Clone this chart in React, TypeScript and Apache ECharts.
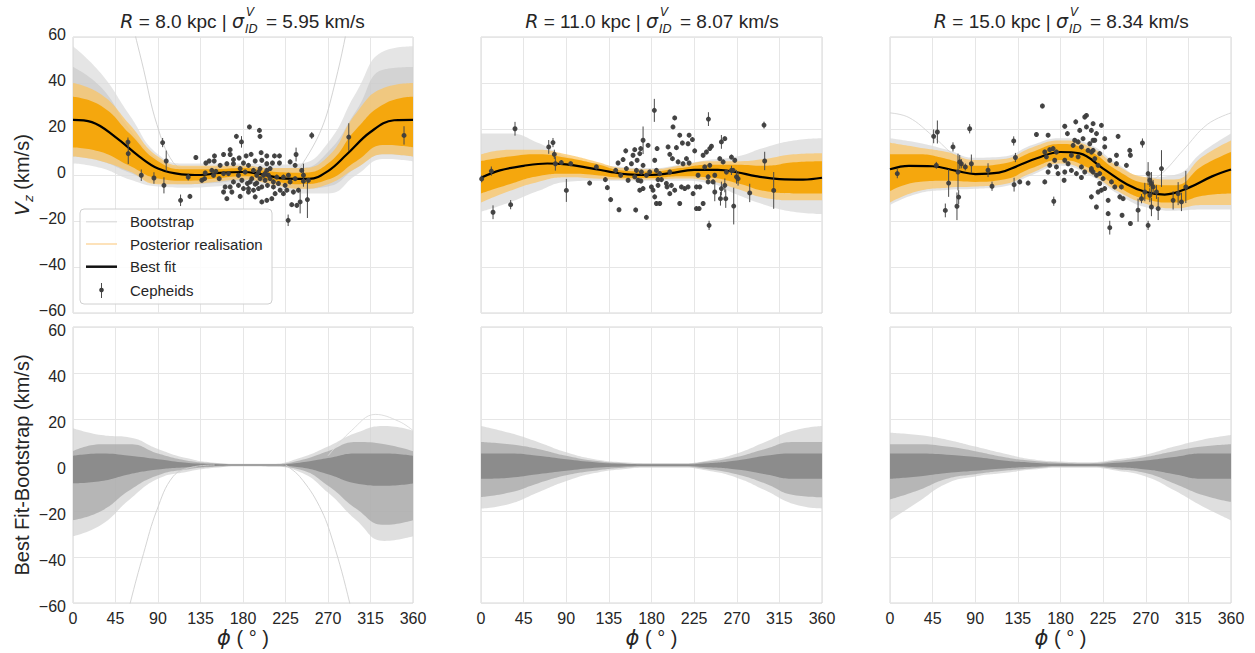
import React, { useEffect, useRef } from 'react';
import * as echarts from 'echarts';

const FONT = 'Liberation Sans';
const MATH = 'DejaVu Sans';
const INK = '#262626';

// phi sampling used for the bundles (envelopes)
const PHI_GRID = [0, 30, 60, 90, 120, 150, 180, 210, 240, 270, 300, 330, 360];
// phi sampling used for the best-fit curves
const PHI_FIT = [0, 20, 45, 70, 90, 115, 135, 155, 180, 200, 225, 250, 270, 290, 315, 340, 360];

// ---------- Panel 1 : R = 8.0 kpc ----------
const BEST_1 = [24.0, 23.0, 16.5, 8.1, 2.8, 0.3, 0.0, 0.9, 1.3, 0.3, -1.6, -1.7, 1.7, 9.0, 18.7, 23.8, 24.0];
const BOOT1_OUT_LO = [5, 3, -2, -5, -5.5, -5, -4, -5, -8, -8, 0, 7, 6];
const BOOT1_OUT_HI = [56, 44, 26, 9, 5, 5, 5, 4.5, 5, 14, 36, 54, 56];
const BOOT1_IN_LO = [8, 6, 1, -3.5, -4, -3.5, -2.5, -3.5, -6, -5, 3, 9, 8];
const BOOT1_IN_HI = [47, 38, 20, 7, 3.5, 3.5, 4, 3, 3, 10, 28, 46, 47];
const POST1_OUT_LO = [8, 6, 1.5, -4, -4, -3, -2, -4, -6, -4, 3, 9, 8];
const POST1_OUT_HI = [40, 35, 22, 8, 4, 4, 4, 3, 3, 8, 27, 38, 40];
const POST1_IN_LO = [12, 10, 4, -1.5, -2.5, -1.5, -0.5, -2.5, -4, -2, 6, 13, 12];
const POST1_IN_HI = [34, 30, 18, 6, 2.5, 2.5, 3, 1.5, 1, 5, 20, 31, 34];
const BOOT1_STRAY_A = [[55, 88], [60.6, 71], [74.7, 46], [88.8, 22], [106, 5.5], [125, 0.5]];
const BOOT1_STRAY_B = [[240, 3], [261, 18], [275, 36], [293, 70], [300, 90]];
const CEPH_1 = [
  [58.2, 14.3, 2], [58.5, 9.3, 4.5], [72.3, -0.1, 2.5], [85.7, -1.3, 2.5], [94.9, 14.1, 2], [98.7, 6.1, 4.5],
  [96.3, -4.5, 3.5], [113.9, -11, 2.5], [123.8, -9.3, 1], [122, -0.9, 1.5], [178.4, 14.4, 2.5], [227.8, -19.7, 2.5],
  [292, 16.5, 6], [350.5, 17.2, 4], [252.8, 17.2, 1.5], [186.8, 20.9, 1], [197.4, 19.4, 1], [198, 16.8, 1], [173, 16.8, 1],
  [166.4, 11.0, 1], [159.4, 8.9, 1], [166.4, 8.9, 1], [149.8, 8.3, 1], [130.1, 7.6, 1], [140.7, 5.2, 1], [144.2, 6.1, 1],
  [149.5, 6.1, 1], [169.9, 6.7, 1], [175.9, 7.4, 1], [183.3, 8.3, 1], [188.6, 9.0, 1], [199.2, 9.7, 1], [205.2, 8.3, 1],
  [213.3, 8.3, 1], [218.6, 8.3, 1], [218.6, 5.2, 1], [211.2, 5.2, 1], [199.9, 6.4, 1], [192.9, 6.1, 1], [180.5, 5.2, 1],
  [169.9, 4.9, 1], [162.9, 4.9, 1], [155.8, 4.2, 1], [147.0, 2.0, 1], [140.0, 0.9, 1], [136.4, -2.3, 1], [139.3, -1.6, 1],
  [151.3, 1.6, 1], [159.4, 0.6, 1], [164.6, 0.6, 1], [175.2, -0.1, 1], [182.3, 1.3, 1], [191.1, 2.0, 1], [198.1, 2.8, 1],
  [205.2, 2.0, 1], [208.7, 2.8, 1], [194.6, -0.1, 1], [201.7, -0.1, 1], [189.3, -1.6, 1], [187.6, -3.0, 1], [194.6, -3.5, 1],
  [203.4, -2.3, 1], [208.7, -1.6, 1], [212.2, -3.0, 1], [215.8, -0.9, 1], [222.8, -0.9, 1], [228.1, -0.1, 1], [229.9, 5.7, 1],
  [235.2, 4.2, 1], [236.2, 8.9, 3], [242.2, 2.0, 1], [244.0, -0.1, 5], [235.2, -1.6, 1], [229.9, -3.0, 1], [224.6, -4.5, 1],
  [226.4, -6.6, 1], [233.4, -7.4, 1], [238.7, -6.6, 1], [240.5, -11.7, 5], [237.0, -13.2, 1], [231.6, -12.9, 1],
  [248.2, -10.7, 8], [244.0, -2.7, 1], [249.3, -2.3, 1], [205.9, -4.5, 1], [199.9, -5.2, 1], [196.4, -5.9, 1], [191.1, -6.6, 1],
  [185.8, -5.9, 1], [180.5, -5.9, 1], [175.2, -4.5, 1], [166.4, -5.2, 1], [161.1, -5.2, 1], [159.4, -7.4, 1], [162.9, -10.3, 1],
  [168.2, -7.4, 1], [177.0, -9.3, 1], [185.8, -7.4, 1], [192.9, -9.5, 1], [199.9, -11.7, 1], [205.2, -11.0, 1], [210.5, -10.3, 1],
  [214.0, -8.1, 1], [219.3, -6.6, 1], [222.8, -8.1, 1], [217.5, -3.7, 1], [212.2, -5.2, 1], [184.7, -3.7, 1], [178.8, -2.3, 1],
  [169.9, -3.0, 1], [154.8, -1.6, 1], [148.8, -0.1, 1], [196.4, 1.3, 1], [203.4, 0.6, 1], [207.0, -0.1, 1], [198.1, -1.6, 1],
  [192.9, -4.0, 1], [205.2, 4.9, 1], [185.8, 4.2, 1], [177.0, 2.8, 1],
];

// ---------- Panel 2 : R = 11.0 kpc ----------
const BEST_2 = [-1.2, 2.0, 4.0, 5.0, 4.6, 3.0, 1.5, 0.3, 0.0, 0.8, 2.2, 2.2, 1.2, -0.5, -1.8, -2.0, -1.2];
const BOOT2_LO = [-16, -12, -7, -3, -2.5, -2.5, -2.5, -2.5, -3.5, -8.5, -13, -16, -17];
const BOOT2_HI = [18, 18, 14, 8, 5, 3.5, 3, 4.5, 6.5, 8, 12, 15, 16];
const POST2_OUT_LO = [-12, -7, -3, -1, -1.5, -2, -2, -1.5, -2.5, -6, -10, -11, -11];
const POST2_OUT_HI = [9, 11, 11, 9, 6, 3, 2.5, 4, 6, 6, 7, 9, 9.5];
const POST2_IN_LO = [-8, -4, -0.5, 0.5, 0, -1.2, -1.3, -0.5, -1, -3.5, -7, -8, -8];
const POST2_IN_HI = [6, 8, 9, 7.5, 5, 2, 1.5, 3, 4.5, 4.5, 4, 5.5, 6];
const CEPH_2 = [
  [0.7, -1.7, 1.5], [10.9, 1.7, 2], [12.7, -16.2, 3], [35.9, 20.1, 3], [31.3, -12.9, 2], [71.5, 12.2, 3], [76.0, 14.1, 2],
  [77.4, 9.0, 2], [78.5, 4.9, 3], [84.8, 5.4, 1], [94.7, 4.9, 1], [90.1, -6.7, 5], [114.7, -3.5, 1], [121.8, 3.5, 1],
  [131.3, -2.0, 1], [133.4, -5.5, 1], [136.9, -10.7, 1], [145.7, -15.1, 1], [163.3, -15.2, 1], [174.6, -18.4, 1],
  [183.0, 28.1, 5], [204.5, 24.8, 1], [202.7, 20.9, 1], [240.1, 24.3, 3], [240.8, -21.9, 2], [266.8, -13.5, 8],
  [283.7, -7.8, 4], [298.8, 21.7, 1.5], [299.5, 6.1, 4], [309.0, -6.7, 8], [171.1, 15.1, 6],
  [152.8, 10.5, 1], [162.3, 11.0, 1], [168.6, 11.5, 1], [176.4, 12.9, 1], [185.9, 11.5, 1], [160.5, 8.6, 1], [167.6, 9.3, 1],
  [164.8, 6.4, 1], [150.0, 6.7, 1], [144.7, 5.2, 1], [158.8, 4.9, 1], [171.1, 4.2, 1], [183.4, 6.4, 1], [185.2, 2.0, 1],
  [197.5, 12.2, 1], [206.3, 11.9, 1], [209.8, 17.3, 1], [219.7, 17.3, 1], [212.6, 13.9, 1], [218.6, 13.6, 1], [223.2, 15.4, 1],
  [225.6, 10.5, 1], [202.1, 7.1, 1], [199.3, 9.0, 1], [208.1, 5.7, 1], [216.9, 7.1, 1], [213.3, 4.9, 1], [219.7, 5.2, 1],
  [142.2, 2.0, 1], [153.5, 2.8, 1], [164.1, 2.0, 1], [169.3, 1.3, 1], [174.6, -0.1, 1], [178.1, 1.3, 1], [188.7, 0.6, 1],
  [199.3, 1.3, 1], [162.3, -0.8, 1], [165.8, -2.3, 1], [168.8, -2.6, 1], [171.1, -5.9, 1], [167.6, -6.6, 1], [179.9, -5.2, 1],
  [181.6, -6.6, 1], [186.9, -2.0, 1], [186.9, -4.5, 1], [183.4, -9.5, 1], [185.2, -12.4, 1], [188.7, -12.4, 1], [190.5, -2.0, 1],
  [195.7, -3.7, 1], [196.4, -5.2, 1], [201.0, -4.5, 1], [204.5, -6.6, 1], [199.3, -8.1, 1], [211.6, -5.2, 1], [215.1, -5.9, 1],
  [218.6, -5.2, 1], [209.8, -12.4, 1], [223.9, -8.1, 1], [227.4, -5.2, 1], [227.4, -14.6, 1], [155.3, -2.3, 1], [147.5, -0.1, 1],
  [234.5, 8.6, 1], [238.0, 10.0, 1], [241.5, 11.5, 1], [243.3, 12.5, 1], [253.8, 14.4, 3], [257.4, 15.8, 1], [252.1, 7.1, 1],
  [255.6, 5.7, 1], [264.4, 7.8, 1], [267.9, 6.4, 1], [236.2, 3.5, 1], [241.5, 4.2, 1], [229.2, -0.1, 1], [239.8, -0.8, 1],
  [246.8, -0.1, 1], [259.1, 1.3, 1], [264.4, 2.0, 2], [269.7, -0.8, 3], [271.4, -1.6, 3], [231.0, -5.2, 1], [234.5, -12.4, 1],
  [230.3, -14.6, 1], [246.8, -7.4, 4], [253.8, -5.9, 3], [257.4, -4.5, 3], [258.4, -10.3, 4], [252.8, -10.3, 3],
  [239.8, -3.0, 1], [245.0, -3.0, 1], [266.2, 2.0, 1],
];

// ---------- Panel 3 : R = 15.0 kpc ----------
const BEST_3 = [2.5, 4.0, 3.8, 1.8, 0.4, 1.0, 4.0, 7.3, 10.0, 9.4, 2.8, -4.0, -7.4, -8.5, -5.6, -0.6, 2.4];
const BOOT3_LO = [-13, -8, -6.5, -6, -5, 0, 4, 0, -8, -14, -15.5, -15, -15];
const BOOT3_HI = [16, 14, 11, 7.5, 8, 13, 16, 13.5, 5, -1, 0, 10, 18];
const POST3_OUT_LO = [-12, -7, -5.5, -5, -4, 1, 5, 1, -7, -12.5, -14.5, -13, -13];
const POST3_OUT_HI = [14, 12, 10, 6.5, 7, 12, 15, 12.5, 4, -1, -2, 8, 15];
const POST3_IN_LO = [-7, -3, -2.5, -3, -2, 3, 6.5, 3, -5, -10.5, -12, -9, -8];
const POST3_IN_HI = [9, 9, 7, 4, 5, 10, 13.5, 10.5, 2, -3.5, -4.5, 4, 10];
const BOOT3_STRAY_A = [[0, 27], [20, 25], [45, 17], [70, 8], [95, 3]];
const BOOT3_STRAY_B = [[260, -6], [285, 0], [310, 11], [335, 22], [360, 27]];
const CEPH_3 = [
  [7.7, 0.6, 2], [46.1, 16.8, 3], [50.0, 18.7, 5], [48.9, 4.2, 1.5], [58.4, -15.4, 3], [61.9, -3.5, 6], [66.5, 12.2, 2],
  [70.7, -13.6, 6], [72.5, -9.6, 3], [71.8, 1.3, 8], [73.6, 5.7, 3], [75.3, 4.9, 2], [79.5, 3.5, 1.5], [84.1, 20.1, 2],
  [85.9, 4.9, 4], [103.5, 2.1, 3], [107.7, -4.9, 2], [130.6, 14.8, 2], [132.4, 7.6, 2], [131.0, -4.2, 3], [137.0, -3.0, 1],
  [145.8, -3.5, 1], [154.6, 17.6, 1], [160.9, 30.0, 1], [166.9, 17.3, 1], [163.4, -3.0, 1], [172.9, -11.4, 2],
  [163.4, 10.0, 1], [168.6, 11.0, 1], [172.2, 11.5, 1], [175.7, 10.0, 1], [165.1, 7.9, 1], [173.9, 6.4, 1], [168.6, 4.2, 1],
  [175.7, 3.5, 1], [166.9, 1.3, 1], [177.4, 0.6, 1], [184.5, 1.3, 1], [183.8, -2.3, 1], [184.5, 21.2, 1], [187.3, 18.0, 1],
  [196.1, 23.1, 1], [205.6, 25.2, 1], [207.4, 25.9, 1], [200.3, 19.4, 1], [207.4, 20.9, 1], [212.6, 19.4, 1], [214.4, 22.3, 1],
  [223.2, 21.6, 1], [195.0, 15.1, 1], [198.6, 14.4, 1], [203.8, 15.8, 1], [193.3, 12.9, 1], [202.1, 12.2, 1], [210.9, 13.6, 1],
  [216.2, 15.1, 1], [209.1, 10.7, 1], [214.4, 10.7, 1], [221.4, 9.3, 1], [191.5, 8.6, 1], [198.6, 7.9, 1], [184.5, 6.4, 1],
  [188.0, 4.9, 1], [202.1, 3.5, 1], [205.6, 1.3, 1], [212.6, 2.8, 1], [214.4, 1.3, 1], [202.1, -1.1, 1], [221.4, 0.6, 1],
  [221.4, -3.7, 1], [212.6, -9.5, 1], [217.9, -13.9, 1], [223.2, -6.6, 1], [219.7, 4.2, 1], [191.5, 2.0, 1], [196.8, 0.6, 1],
  [240.8, 16.8, 1], [266.5, 13.9, 2], [286.6, 2.8, 8], [226.7, 15.8, 1], [226.7, 12.2, 1], [239.1, 8.6, 1], [253.1, 10.7, 1],
  [253.8, 8.6, 1], [249.6, 4.2, 1], [239.1, 4.9, 1], [232.0, 6.4, 1], [214.4, 15.1, 1], [218.0, 18.0, 1], [212.7, 10.0, 1],
  [216.2, 7.1, 1], [212.7, 2.0, 1], [218.0, -0.1, 1], [225.0, -1.6, 1], [226.7, -5.9, 1], [219.7, -7.4, 1], [233.8, -3.0, 1],
  [237.3, -5.2, 1], [244.3, -5.2, 1], [242.6, -9.5, 1], [246.1, -10.3, 1], [230.3, -11.0, 1], [230.3, -16.8, 1],
  [232.0, -22.9, 3], [245.0, -17.5, 1], [253.8, -21.1, 1], [272.5, -21.9, 2], [261.9, -15.3, 5], [265.5, -10.3, 2],
  [269.0, -7.4, 4], [272.5, 0.6, 5], [274.3, -2.3, 3], [276.0, -3.7, 5], [277.8, -5.2, 3], [274.3, -8.8, 3], [281.3, -7.4, 3],
  [276.0, -13.9, 4], [283.1, -14.6, 5], [298.9, -11.0, 4], [304.2, -8.1, 5], [307.7, -11.7, 4], [312.3, -5.2, 7],
];

// ---------- Bottom row : best fit - bootstrap ----------
const DIFF1_OUT_LO = [-31, -26, -15, -6, -3, -1.2, -0.6, -0.8, -3, -12, -24, -33, -31];
const DIFF1_OUT_HI = [16, 13, 12, 7, 3, 1, 0.5, 0.5, 3, 8, 14, 17, 15];
const DIFF1_MID_LO = [-24, -20, -11, -4.5, -2, -0.8, -0.4, -0.5, -2, -9, -19, -26, -24];
const DIFF1_MID_HI = [6, 9, 9, 5, 2, 0.8, 0.4, 0.4, 2, 6, 10, 9, 6];
const DIFF1_IN_LO = [-8, -7, -4, -2, -1, -0.4, -0.2, -0.2, -1, -4, -8, -9, -8];
const DIFF1_IN_HI = [4, 5, 4, 2.5, 1, 0.4, 0.2, 0.2, 1, 3, 5, 5, 4];
const DIFF1_STRAY_A = [[40, -95], [60.6, -60], [74.7, -38.5], [88.8, -19.6], [106, -5], [125, -1], [150, 0]];
const DIFF1_STRAY_B = [[225, 0], [240, -5], [261, -18], [275, -33], [293, -60], [310, -92]];
const DIFF1_STRAY_C = [[270, 4], [295, 15], [320, 22], [345, 19], [360, 15]];

const DIFF2_OUT_LO = [-19, -17, -12, -7, -3.5, -1.8, -1.2, -1.2, -2.5, -5.5, -11, -17, -19];
const DIFF2_OUT_HI = [17, 14, 10, 5.5, 2.5, 1.2, 0.8, 0.8, 2, 5, 10, 15, 17];
const DIFF2_MID_LO = [-14, -12, -8, -4.5, -2.5, -1.2, -0.8, -0.8, -1.8, -4, -8, -13, -14];
const DIFF2_MID_HI = [10, 9, 7, 4, 1.8, 0.8, 0.5, 0.5, 1.5, 3.5, 7, 10, 10];
const DIFF2_IN_LO = [-6, -5.5, -4, -2.5, -1.2, -0.6, -0.4, -0.4, -1, -2, -4, -6, -6];
const DIFF2_IN_HI = [5, 5, 4, 2.5, 1.2, 0.5, 0.3, 0.3, 0.8, 2, 4, 5, 5];

const DIFF3_OUT_LO = [-24, -16, -8, -5, -3.5, -2, -1.2, -1.2, -2.5, -5, -11, -18, -24];
const DIFF3_OUT_HI = [14, 13, 11, 8, 5, 2.5, 1.5, 1.2, 2.5, 4.5, 8, 11, 13];
const DIFF3_MID_LO = [-15, -11, -6, -4, -2.5, -1.5, -0.8, -0.8, -1.8, -3.5, -8, -13, -16];
const DIFF3_MID_HI = [9, 9, 8, 6, 3.5, 1.8, 1, 0.8, 1.8, 3.5, 6, 8, 9];
const DIFF3_IN_LO = [-6, -5, -3.5, -2.5, -1.5, -0.8, -0.4, -0.4, -1, -2, -4, -6, -6];
const DIFF3_IN_HI = [5, 5, 4.5, 3.5, 2, 1, 0.5, 0.4, 1, 2, 3.5, 5, 5];

const TITLES = [
  { left: 'R = 8.0 kpc | σ', right: '= 5.95 km/s' },
  { left: 'R = 11.0 kpc | σ', right: '= 8.07 km/s' },
  { left: 'R = 15.0 kpc | σ', right: '= 8.34 km/s' },
];

const GRID_LEFT = [73, 481, 890];
const GRID_W = [340, 341, 341];
const ROW_TOP = [37, 327];
const GRID_H = 276;
const TITLE_ANCHOR = [244, 658, 1068];

function band(grid: number, lo: number[], hi: number[], color: string, opacity: number, id: string, z: number) {
  const cat = 6 + grid;
  const common = {
    type: 'line', xAxisIndex: cat, yAxisIndex: grid, stack: id, stackStrategy: 'all',
    smooth: 0.5, symbol: 'none', silent: true, z, lineStyle: { opacity: 0, width: 0 },
  };
  return [
    { ...common, data: lo },
    { ...common, data: hi.map((h, i) => h - lo[i]), areaStyle: { color, opacity } },
  ];
}

function line(grid: number, pts: number[][], color: string, width: number, opacity: number, z: number) {
  return {
    type: 'line', xAxisIndex: grid, yAxisIndex: grid, data: pts, smooth: 0.4, symbol: 'none', silent: true, z,
    lineStyle: { color, width, opacity },
  };
}

function cepheids(grid: number, data: number[][]) {
  return [
    {
      type: 'custom', xAxisIndex: grid, yAxisIndex: grid, data, z: 6, silent: true,
      encode: { x: 0, y: 1 },
      renderItem: (_p: any, api: any) => {
        const x = api.value(0), y = api.value(1), e = api.value(2);
        const a = api.coord([x, y - e]);
        const b = api.coord([x, y + e]);
        return { type: 'line', shape: { x1: a[0], y1: a[1], x2: b[0], y2: b[1] }, style: { stroke: '#4a4a4a', lineWidth: 1 } };
      },
    },
    {
      type: 'scatter', xAxisIndex: grid, yAxisIndex: grid, data: data.map((d) => [d[0], d[1]]), symbolSize: 5, z: 7, silent: true,
      itemStyle: { color: '#3d3d3d', opacity: 0.95 },
    },
  ];
}

const minus = (v: number) => (v < 0 ? '\u2212' + Math.abs(v) : String(v));

function buildOption() {
  const grids: any[] = [];
  const xAxes: any[] = [];
  const yAxes: any[] = [];
  for (let r = 0; r < 2; r++) {
    for (let c = 0; c < 3; c++) {
      grids.push({ left: GRID_LEFT[c], top: ROW_TOP[r], width: GRID_W[c], height: GRID_H, show: true, borderColor: '#d6d6d6', borderWidth: 1 });
    }
  }
  const label = { fontFamily: FONT, fontSize: 16, color: INK };
  for (let g = 0; g < 6; g++) {
    const bottom = g >= 3;
    xAxes.push({
      gridIndex: g, type: 'value', min: 0, max: 360, interval: 45,
      axisLine: { show: false }, axisTick: { show: false },
      splitLine: { show: true, lineStyle: { color: '#e6e6e6', width: 1 } },
      axisLabel: { show: bottom, ...label, margin: 7 },
      name: bottom ? '{i|ϕ} ( ° )' : '', nameLocation: 'middle', nameGap: 24,
      nameTextStyle: { fontFamily: FONT, fontSize: 20, color: INK, rich: { i: { fontFamily: MATH, fontStyle: 'italic', fontSize: 21, color: INK } } },
    });
    yAxes.push({
      gridIndex: g, type: 'value', min: -60, max: 60, interval: 20,
      axisLine: { show: false }, axisTick: { show: false },
      splitLine: { show: true, lineStyle: { color: '#e6e6e6', width: 1 } },
      axisLabel: {
        show: g % 3 === 0, ...label, margin: 7, formatter: minus,
        // labels of the top row sit 3px higher, those of the bottom row 3px lower,
        // so that "−60" and "60" between the rows stay apart
        lineHeight: 6, verticalAlign: bottom ? 'top' : 'bottom',
      },
    });
  }
  for (let g = 0; g < 6; g++) {
    xAxes.push({ gridIndex: g, type: 'category', data: PHI_GRID.map(String), boundaryGap: false, show: false, position: 'top' });
  }

  const GRAY_O = '#dcdcdc', GRAY_I = '#c6c6c6';
  const OR_O = '#fcc35c', OR_I = '#f5a300';
  const series: any[] = [
    // panel 1
    ...band(0, BOOT1_OUT_LO, BOOT1_OUT_HI, GRAY_O, 0.75, 'b1o', 1),
    ...band(0, BOOT1_IN_LO, BOOT1_IN_HI, GRAY_I, 0.6, 'b1i', 1),
    line(0, BOOT1_STRAY_A, '#c8c8c8', 1, 0.8, 1),
    line(0, BOOT1_STRAY_B, '#c8c8c8', 1, 0.8, 1),
    ...band(0, POST1_OUT_LO, POST1_OUT_HI, OR_O, 0.7, 'p1o', 2),
    ...band(0, POST1_IN_LO, POST1_IN_HI, OR_I, 0.9, 'p1i', 2),
    line(0, PHI_FIT.map((p, i) => [p, BEST_1[i]]), '#000', 2.2, 1, 5),
    ...cepheids(0, CEPH_1),
    // panel 2
    ...band(1, BOOT2_LO, BOOT2_HI, GRAY_O, 0.8, 'b2o', 1),
    ...band(1, POST2_OUT_LO, POST2_OUT_HI, OR_O, 0.7, 'p2o', 2),
    ...band(1, POST2_IN_LO, POST2_IN_HI, OR_I, 0.9, 'p2i', 2),
    line(1, PHI_FIT.map((p, i) => [p, BEST_2[i]]), '#000', 2.2, 1, 5),
    ...cepheids(1, CEPH_2),
    // panel 3
    ...band(2, BOOT3_LO, BOOT3_HI, GRAY_O, 0.8, 'b3o', 1),
    line(2, BOOT3_STRAY_A, '#d0d0d0', 1, 0.8, 1),
    line(2, BOOT3_STRAY_B, '#d0d0d0', 1, 0.8, 1),
    ...band(2, POST3_OUT_LO, POST3_OUT_HI, OR_O, 0.7, 'p3o', 2),
    ...band(2, POST3_IN_LO, POST3_IN_HI, OR_I, 0.9, 'p3i', 2),
    line(2, PHI_FIT.map((p, i) => [p, BEST_3[i]]), '#000', 2.2, 1, 5),
    ...cepheids(2, CEPH_3),
    // bottom row
    ...band(3, DIFF1_OUT_LO, DIFF1_OUT_HI, '#d2d2d2', 0.7, 'd1o', 1),
    ...band(3, DIFF1_MID_LO, DIFF1_MID_HI, '#a8a8a8', 0.75, 'd1m', 1),
    ...band(3, DIFF1_IN_LO, DIFF1_IN_HI, '#878787', 0.9, 'd1i', 1),
    line(3, DIFF1_STRAY_A, '#cfcfcf', 1, 0.9, 1),
    line(3, DIFF1_STRAY_B, '#cfcfcf', 1, 0.9, 1),
    line(3, DIFF1_STRAY_C, '#dadada', 1, 0.9, 1),
    ...band(4, DIFF2_OUT_LO, DIFF2_OUT_HI, '#d2d2d2', 0.7, 'd2o', 1),
    ...band(4, DIFF2_MID_LO, DIFF2_MID_HI, '#a8a8a8', 0.75, 'd2m', 1),
    ...band(4, DIFF2_IN_LO, DIFF2_IN_HI, '#878787', 0.9, 'd2i', 1),
    ...band(5, DIFF3_OUT_LO, DIFF3_OUT_HI, '#d2d2d2', 0.7, 'd3o', 1),
    ...band(5, DIFF3_MID_LO, DIFF3_MID_HI, '#a8a8a8', 0.75, 'd3m', 1),
    ...band(5, DIFF3_IN_LO, DIFF3_IN_HI, '#878787', 0.9, 'd3i', 1),
  ];

  const graphic: any[] = [];
  TITLES.forEach((t, i) => {
    const ax = TITLE_ANCHOR[i];
    graphic.push(
      {
        type: 'text', x: ax, y: 21, z: 10,
        style: {
          text: t.left.replace('R', '{m|R}').replace('σ', '{m|σ}'),
          rich: { m: { fontFamily: MATH, fontStyle: 'italic', fontSize: 19, fill: INK } },
          fontFamily: FONT, fontSize: 19, fill: INK, align: 'right', verticalAlign: 'middle',
        },
      },
      { type: 'text', x: ax + 2, y: 12, z: 10, style: { text: 'V', fontFamily: MATH, fontStyle: 'italic', fontSize: 12, fill: INK, align: 'left', verticalAlign: 'middle' } },
      { type: 'text', x: ax + 1, y: 29, z: 10, style: { text: 'ID', fontFamily: MATH, fontStyle: 'italic', fontSize: 12, fill: INK, align: 'left', verticalAlign: 'middle' } },
      { type: 'text', x: ax + 22, y: 21, z: 10, style: { text: t.right, fontFamily: FONT, fontSize: 19, fill: INK, align: 'left', verticalAlign: 'middle' } },
    );
  });
  graphic.push(
    {
      type: 'text', x: 22, y: 175, rotation: Math.PI / 2, z: 10,
      style: {
        text: '{m|V}{s|z} (km/s)',
        rich: {
          m: { fontFamily: MATH, fontStyle: 'italic', fontSize: 20, fill: INK, lineHeight: 26 },
          s: { fontFamily: MATH, fontStyle: 'italic', fontSize: 13, fill: INK, verticalAlign: 'bottom', lineHeight: 14 },
        },
        fontFamily: FONT, fontSize: 20, fill: INK, align: 'center', verticalAlign: 'middle', lineHeight: 26,
      },
    },
    {
      type: 'text', x: 22, y: 465, rotation: Math.PI / 2, z: 10,
      style: { text: 'Best Fit-Bootstrap (km/s)', fontFamily: FONT, fontSize: 20, fill: INK, align: 'center', verticalAlign: 'middle' },
    },
  );
  // legend (panel 1)
  const LX = 80, LY = 209;
  graphic.push(
    { type: 'rect', z: 20, shape: { x: LX, y: LY, width: 192, height: 95, r: 4 }, style: { fill: 'rgba(255,255,255,0.85)', stroke: '#d0d0d0', lineWidth: 1 } },
    { type: 'line', z: 21, shape: { x1: 86, y1: 221.7, x2: 117, y2: 221.7 }, style: { stroke: '#e0e0e0', lineWidth: 1.5 } },
    { type: 'line', z: 21, shape: { x1: 86, y1: 244, x2: 117, y2: 244 }, style: { stroke: '#fdd9a3', lineWidth: 1.5 } },
    { type: 'line', z: 21, shape: { x1: 86, y1: 266.7, x2: 117, y2: 266.7 }, style: { stroke: '#111', lineWidth: 2.5 } },
    { type: 'line', z: 21, shape: { x1: 101.5, y1: 283, x2: 101.5, y2: 298 }, style: { stroke: '#4a4a4a', lineWidth: 1 } },
    { type: 'circle', z: 22, shape: { cx: 101.5, cy: 290, r: 2.3 }, style: { fill: '#3d3d3d' } },
  );
  [['Bootstrap', 221.7], ['Posterior realisation', 244], ['Best fit', 266.7], ['Cepheids', 290]].forEach(([t, y]) => {
    graphic.push({ type: 'text', z: 22, x: 130, y: y as number, style: { text: t as string, fontFamily: FONT, fontSize: 15, fill: INK, align: 'left', verticalAlign: 'middle' } });
  });

  return {
    animation: false,
    backgroundColor: '#ffffff',
    grid: grids,
    xAxis: xAxes,
    yAxis: yAxes,
    series,
    graphic,
  };
}

export default function App() {
  const ref = useRef<HTMLDivElement>(null);
  useEffect(() => {
    const chart = echarts.init(ref.current!, null, { renderer: 'svg' });
    chart.setOption(buildOption() as any);
    return () => chart.dispose();
  }, []);
  return <div ref={ref} style={{ position: 'absolute', left: 0, top: 0, width: 1255, height: 653 }} />;
}
